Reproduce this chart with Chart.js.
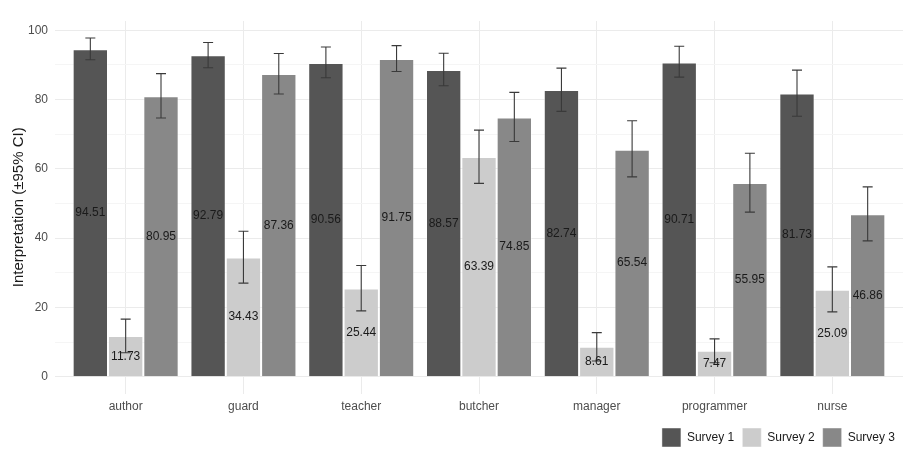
<!DOCTYPE html>
<html>
<head>
<meta charset="utf-8">
<script src="https://cdn.jsdelivr.net/npm/chart.js@4.4.1/dist/chart.umd.min.js"></script>
<style>
  html, body { margin: 0; padding: 0; background: #fff; }
  canvas { display: block; }
</style>
</head>
<body>
<canvas id="surveyChart" width="908" height="460"></canvas>
<script>
// data
const categories = ['author', 'guard', 'teacher', 'butcher', 'manager', 'programmer', 'nurse'];
const seriesNames = ['Survey 1', 'Survey 2', 'Survey 3'];
const survey1 = [94.51, 92.79, 90.56, 88.57, 82.74, 90.71, 81.73];
const survey2 = [11.73, 34.43, 25.44, 63.39, 8.61, 7.47, 25.09];
const survey3 = [80.95, 87.36, 91.75, 74.85, 65.54, 55.95, 46.86];
// 95% CI bounds
const survey1Low  = [91.5, 89.2, 86.3, 84.0, 76.6, 86.5, 75.2];
const survey1High = [97.8, 96.5, 95.2, 93.4, 89.1, 95.4, 88.5];
const survey2Low  = [6.9, 27.0, 19.0, 55.8, 4.5, 4.0, 18.7];
const survey2High = [16.6, 42.0, 32.1, 71.2, 12.7, 10.9, 31.7];
const survey3Low  = [74.7, 81.6, 88.1, 67.9, 57.7, 47.5, 39.2];
const survey3High = [87.5, 93.3, 95.6, 82.1, 73.9, 64.5, 54.8];
const yTicks = [0, 10, 20, 30, 40, 50, 60, 70, 80, 90, 100];

const colors = ['#555555', '#cccccc', '#888888'];
const FONT = "'Liberation Sans', Arial, sans-serif";

function toPoints(vals){
  return vals.map((v, i) => ({ x: i + 1, y: v }));
}

const values = [survey1, survey2, survey3];
const lows = [survey1Low, survey2Low, survey3Low];
const highs = [survey1High, survey2High, survey3High];

// error bars + value labels at half height
const errorBarPlugin = {
  id: 'errorBars',
  afterDatasetsDraw(chart){
    const ctx = chart.ctx;
    const yScale = chart.scales.y;
    ctx.save();
    chart.data.datasets.forEach((ds, di) => {
      const meta = chart.getDatasetMeta(di);
      meta.data.forEach((bar, i) => {
        const x = bar.x;
        const yl = yScale.getPixelForValue(lows[di][i]);
        const yh = yScale.getPixelForValue(highs[di][i]);
        ctx.strokeStyle = '#3a3a3a';
        ctx.lineWidth = 1.1;
        ctx.beginPath();
        ctx.moveTo(x, yl); ctx.lineTo(x, yh);
        ctx.moveTo(x - 5, yl); ctx.lineTo(x + 5, yl);
        ctx.moveTo(x - 5, yh); ctx.lineTo(x + 5, yh);
        ctx.stroke();
      });
    });
    ctx.font = '12px ' + FONT;
    ctx.fillStyle = '#1a1a1a';
    ctx.textAlign = 'center';
    ctx.textBaseline = 'middle';
    chart.data.datasets.forEach((ds, di) => {
      const meta = chart.getDatasetMeta(di);
      meta.data.forEach((bar, i) => {
        const v = values[di][i];
        ctx.fillText(v.toFixed(2), bar.x, yScale.getPixelForValue(v / 2));
      });
    });
    ctx.restore();
  }
};

new Chart(document.getElementById('surveyChart'), {
  type: 'bar',
  data: {
    datasets: seriesNames.map((name, di) => ({
      label: name,
      data: toPoints(values[di]),
      backgroundColor: colors[di],
      borderColor: 'rgba(255,255,255,0.45)',
      borderWidth: 1,
      categoryPercentage: 0.9,
      barPercentage: 1
    }))
  },
  options: {
    responsive: false,
    animation: false,
    devicePixelRatio: 1,
    layout: { padding: { top: 21, right: 5, bottom: 3, left: 0 } },
    plugins: {
      tooltip: { enabled: false },
      legend: {
        position: 'bottom',
        align: 'end',
        labels: {
          boxWidth: 19,
          boxHeight: 19,
          padding: 8,
          color: '#1a1a1a',
          font: { family: FONT, size: 12 }
        }
      }
    },
    scales: {
      x: {
        type: 'linear',
        min: 0.4,
        max: 7.6,
        offset: false,
        afterBuildTicks: axis => { axis.ticks = categories.map((c, i) => ({ value: i + 1 })); },
        grid: { color: '#ebebeb', drawTicks: false, offset: false },
        border: { display: false },
        ticks: {
          padding: 6,
          color: '#4d4d4d',
          font: { family: FONT, size: 12 },
          callback: v => categories[v - 1] || ''
        }
      },
      y: {
        min: -4.9,
        max: 102.7,
        afterBuildTicks: axis => { axis.ticks = yTicks.map(v => ({ value: v })); },
        afterFit: scale => { scale.width = 55; },
        grid: {
          drawTicks: false,
          color: c => (c.tick && c.tick.value % 20 === 0) ? '#ebebeb' : '#f5f5f5'
        },
        border: { display: false },
        ticks: {
          padding: 7,
          color: '#4d4d4d',
          font: { family: FONT, size: 12 },
          callback: v => (v % 20 === 0 ? v : '')
        },
        title: {
          display: true,
          text: 'Interpretation (±95% CI)',
          color: '#1a1a1a',
          font: { family: FONT, size: 15 },
          padding: { top: 10, bottom: 0 }
        }
      }
    }
  },
  plugins: [errorBarPlugin]
});
</script>
</body>
</html>
